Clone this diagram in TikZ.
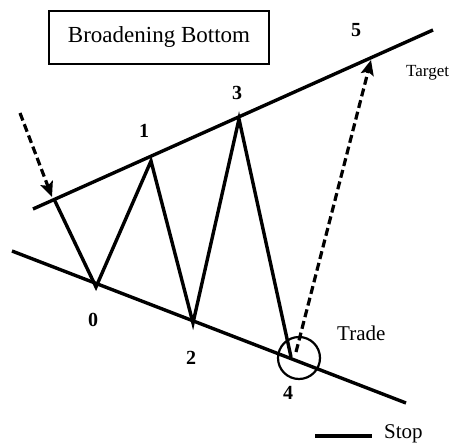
\documentclass[tikz,border=0pt]{standalone}
\usepackage{fontspec}
\setmainfont{Liberation Serif}
\usetikzlibrary{arrows.meta}
\begin{document}
\begin{tikzpicture}[x=1pt,y=-1pt,
  trend/.style={line width=3.4pt},
  zig/.style={line width=3.4pt,line join=miter},
  dasharrow/.style={line width=3.2pt,dash pattern=on 8pt off 4pt,-{Stealth[length=15pt,width=13pt,inset=3pt]}},
  lbl/.style={font=\fontsize{20}{22}\selectfont\bfseries,inner sep=0pt},
  txt/.style={font=\fontsize{21}{23}\selectfont,inner sep=0pt}]
\useasboundingbox (0,0) rectangle (457,446);
% trend lines
\coordinate (tl) at (33,209);
\coordinate (tr) at (433,30);
\coordinate (bl) at (12,251);
\coordinate (br) at (406,403);
\draw[trend] (tl) -- (tr);
\draw[trend] (bl) -- (br);
% vertices
\coordinate (s) at (54,199);
\coordinate (p0) at (96,287);
\coordinate (p1) at (151,161);
\coordinate (p2) at (193,323);
\coordinate (p3) at (239,119);
\coordinate (p4) at (291,357);
\draw[zig] (s) -- (p0) -- (p1) -- (p2) -- (p3) -- (p4);
% dashed arrows
\coordinate (d1s) at (20,113);
\coordinate (d1e) at (52,197);
\draw[dasharrow] (d1s) -- (d1e);
\coordinate (d2s) at (296,352);
\coordinate (d2e) at (371,60);
\draw[dasharrow] (d2s) -- (d2e);
% circle
\node[draw,circle,line width=2.2pt,minimum size=42pt,inner sep=0pt] (c) at (299,358) {};
% title
\node[draw,line width=1.2pt,minimum width=220pt,minimum height=53pt,font=\fontsize{23}{25}\selectfont] (title) at (159,37.5) {Broadening Bottom};
% labels
\node[lbl] (l0) at (93,320) {0};
\node[lbl] (l1) at (144,131) {1};
\node[lbl] (l2) at (191,358) {2};
\node[lbl] (l3) at (237,93) {3};
\node[lbl] (l4) at (288,393) {4};
\node[lbl] (l5) at (356,30) {5};
\node[txt,font=\fontsize{17}{19}\selectfont,anchor=west] (target) at (406,73) {Target};
\node[txt,anchor=west] (trade) at (337,333) {Trade};
\node[txt,anchor=west] (stop) at (384,434) {Stop};
\coordinate (sl) at (315,436);
\draw[line width=3.4pt] (sl) -- ++(57,0);
\end{tikzpicture}
\end{document}
